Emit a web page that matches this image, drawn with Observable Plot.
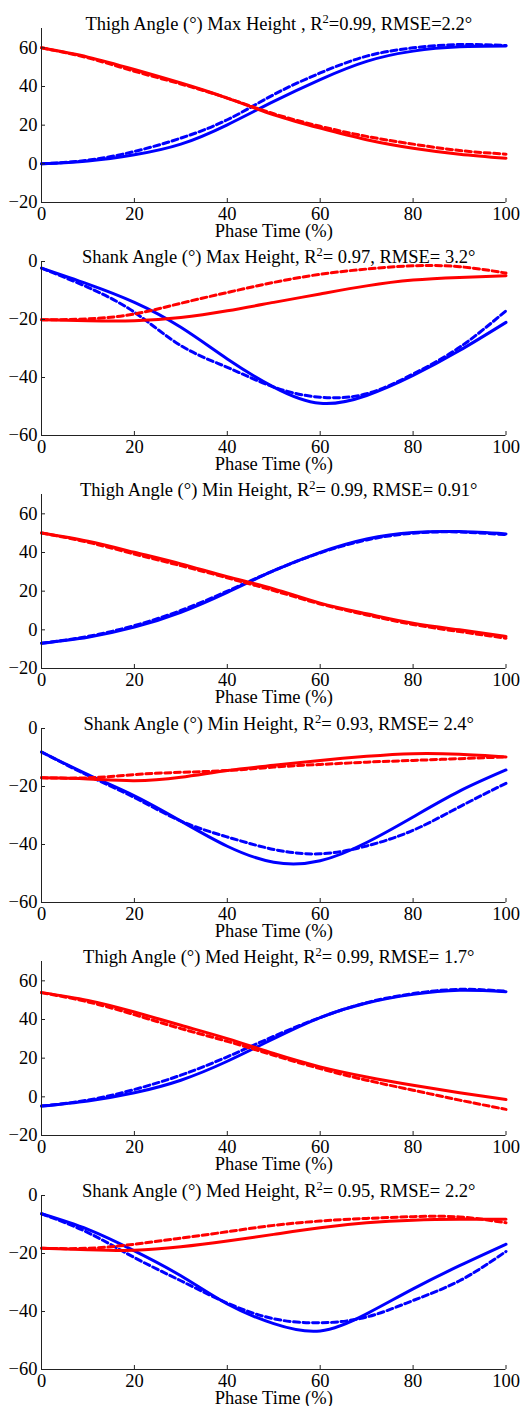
<!DOCTYPE html>
<html><head><meta charset="utf-8">
<script src="https://cdn.jsdelivr.net/npm/d3@7"></script>
<script src="https://cdn.jsdelivr.net/npm/@observablehq/plot@0.6"></script>
<style>
html,body{margin:0;padding:0;background:#fff;}
#wrap{position:relative;width:521px;height:1406px;overflow:hidden;background:#fff;}
#wrap svg{position:absolute;left:0;}
</style></head><body><div id="wrap"></div>
<script>
// ---- data ----
const phase = [0, 10, 20, 30, 40, 50, 60, 70, 80, 90, 100];
const xTicks = [0, 20, 40, 60, 80, 100];
const thighTicks = [-20, 0, 20, 40, 60];
const shankTicks = [-60, -40, -20, 0];
const thighDomain = [-20, 70];
const shankDomain = [-60, 0];
const xLabel = "Phase Time (%)";

const titles = [
  "Thigh Angle (°) Max Height , R²=0.99, RMSE=2.2°",
  "Shank Angle (°) Max Height, R²= 0.97, RMSE= 3.2°",
  "Thigh Angle (°) Min Height, R²= 0.99, RMSE= 0.91°",
  "Shank Angle (°) Min Height, R²= 0.93, RMSE= 2.4°",
  "Thigh Angle (°) Med Height, R²= 0.99, RMSE= 1.7°",
  "Shank Angle (°) Med Height, R²= 0.95, RMSE= 2.2°"
];

// Thigh, Max Height
const thighMaxBlueSolid  = [0, 1.5, 4.7, 10.2, 20.2, 32.3, 43.6, 53.0, 58.3, 60.5, 60.9];
const thighMaxBlueDashed = [0, 1.9, 6.4, 13.3, 22.8, 35.8, 47.0, 55.7, 60.0, 61.7, 61.2];
const thighMaxRedSolid   = [60, 55.2, 48.8, 41.8, 34.0, 25.4, 18.5, 12.5, 8.1, 5.0, 2.9];
const thighMaxRedDashed  = [60, 54.8, 47.9, 41.3, 34.0, 25.9, 19.4, 14.2, 10.2, 6.9, 5.0];
// Shank, Max Height
const shankMaxBlueSolid  = [-2.3, -7.8, -14.1, -22.7, -33.6, -43.3, -48.9, -46.2, -39.3, -30.7, -21.0];
const shankMaxBlueDashed = [-2.3, -8.9, -17.5, -29.0, -36.5, -43.3, -46.8, -45.6, -38.8, -29.6, -17.0];
const shankMaxRedSolid   = [-20.1, -20.4, -20.4, -19.3, -17.0, -14.1, -11.2, -8.4, -6.4, -5.5, -4.9];
const shankMaxRedDashed  = [-20.1, -19.8, -18.1, -14.4, -10.7, -7.2, -4.4, -2.6, -1.5, -1.8, -4.0];
// Thigh, Min Height
const thighMinBlueSolid  = [-6.9, -3.8, 1.4, 9.1, 19.4, 30.6, 40.1, 47.0, 50.4, 50.8, 49.6];
const thighMinBlueDashed = [-6.9, -3.4, 2.2, 10.0, 20.0, 30.6, 39.8, 46.5, 50.0, 50.6, 49.2];
const thighMinRedSolid   = [50.1, 45.8, 40.1, 34.1, 27.5, 21.2, 13.8, 8.3, 3.4, 0.0, -3.4];
const thighMinRedDashed  = [50.1, 45.3, 39.2, 33.2, 26.9, 20.3, 13.4, 7.7, 2.8, -0.9, -4.3];
// Shank, Min Height
const shankMinBlueSolid  = [-8.1, -15.9, -23.2, -31.9, -40.6, -46.1, -45.6, -39.3, -30.5, -21.6, -14.3];
const shankMinBlueDashed = [-8.1, -16.2, -23.8, -31.9, -37.4, -41.7, -43.2, -40.5, -35.1, -27.0, -18.9];
const shankMinRedSolid   = [-17.0, -17.4, -18.0, -16.8, -14.5, -12.7, -11.0, -9.6, -8.7, -8.9, -9.8];
const shankMinRedDashed  = [-17.0, -17.0, -15.9, -15.1, -14.5, -13.3, -12.4, -11.6, -11.0, -10.4, -9.8];
// Thigh, Med Height
const thighMedBlueSolid  = [-4.8, -2.1, 2.1, 8.6, 18.4, 30.1, 41.0, 48.5, 53.0, 55.1, 54.4];
const thighMedBlueDashed = [-4.8, -1.7, 3.8, 11.2, 20.7, 31.3, 41.0, 48.7, 53.4, 55.6, 54.6];
const thighMedRedSolid   = [53.9, 49.9, 43.9, 37.0, 30.1, 22.4, 15.5, 10.3, 6.0, 2.1, -1.4];
const thighMedRedDashed  = [53.9, 49.1, 42.5, 35.3, 28.7, 21.5, 14.6, 8.6, 3.4, -1.7, -6.5];
// Shank, Med Height
const shankMedBlueSolid  = [-6.3, -11.7, -19.1, -27.7, -37.4, -44.2, -46.7, -40.8, -32.2, -24.2, -16.8];
const shankMedBlueDashed = [-6.3, -12.8, -21.4, -29.4, -37.1, -42.5, -43.9, -41.9, -36.2, -29.4, -19.3];
const shankMedRedSolid   = [-18.2, -18.7, -18.9, -17.7, -15.7, -13.4, -11.1, -9.4, -8.5, -8.2, -8.2];
const shankMedRedDashed  = [-18.2, -18.2, -16.8, -14.7, -12.5, -10.3, -8.8, -7.9, -7.3, -7.4, -9.4];

// ---- assembly ----
const panels = [
  {title: titles[0], domain: thighDomain, ticks: thighTicks, s: [thighMaxBlueSolid, thighMaxBlueDashed, thighMaxRedSolid, thighMaxRedDashed]},
  {title: titles[1], domain: shankDomain, ticks: shankTicks, s: [shankMaxBlueSolid, shankMaxBlueDashed, shankMaxRedSolid, shankMaxRedDashed]},
  {title: titles[2], domain: thighDomain, ticks: thighTicks, s: [thighMinBlueSolid, thighMinBlueDashed, thighMinRedSolid, thighMinRedDashed]},
  {title: titles[3], domain: shankDomain, ticks: shankTicks, s: [shankMinBlueSolid, shankMinBlueDashed, shankMinRedSolid, shankMinRedDashed]},
  {title: titles[4], domain: thighDomain, ticks: thighTicks, s: [thighMedBlueSolid, thighMedBlueDashed, thighMedRedSolid, thighMedRedDashed]},
  {title: titles[5], domain: shankDomain, ticks: shankTicks, s: [shankMedBlueSolid, shankMedBlueDashed, shankMedRedSolid, shankMedRedDashed]}
];
const styles = [
  {stroke: "#0000ff", dash: null},
  {stroke: "#0000ff", dash: "6,3.5"},
  {stroke: "#ff0000", dash: null},
  {stroke: "#ff0000", dash: "6,3.5"}
];

const wrap = document.getElementById("wrap");
const MT = 30, PH = 174, MB = 42;
const FONT = "'Liberation Serif', 'Times New Roman', Times, serif";

panels.forEach((p, i) => {
  const top = 27.5 + 233.4 * i;
  const lineMarks = p.s.map((arr, k) => {
    const rows = phase.map((x, j) => ({x, y: arr[j]}));
    const opts = {x: "x", y: "y", stroke: styles[k].stroke, strokeWidth: 3, curve: "natural"};
    if (styles[k].dash) opts.strokeDasharray = styles[k].dash;
    return Plot.line(rows, opts);
  });
  const chart = Plot.plot({
    width: 521,
    height: MT + PH + MB,
    marginTop: MT,
    marginBottom: MB,
    marginLeft: 41,
    marginRight: 15.5,
    style: {background: "transparent", fontFamily: FONT, fontSize: "18.5px", color: "#000", overflow: "visible"},
    x: {domain: [0, 100], label: null},
    y: {domain: p.domain, label: null},
    marks: [
      ...lineMarks,
      Plot.ruleX([0], {stroke: "#222", strokeWidth: 1}),
      Plot.ruleY([p.domain[0]], {stroke: "#222", strokeWidth: 1}),
      Plot.axisX({ticks: xTicks, tickSize: -4, tickPadding: 8, tickFormat: d => String(d), label: null, stroke: "#222"}),
      Plot.axisY({ticks: p.ticks, tickSize: -4, tickPadding: 8, tickFormat: d => (d < 0 ? "\u2212" + Math.abs(d) : String(d)), label: null, stroke: "#222"}),
      Plot.text([xLabel], {frameAnchor: "bottom", lineAnchor: "bottom", dy: 34.5, text: d => d, fill: "#000"}),
      Plot.text([p.title], {frameAnchor: "top", lineAnchor: "bottom", dy: 1, dx: 5, text: d => d, fill: "#000"})
    ]
  });
  chart.style.top = (top - MT) + "px";
  // superscript for R²
  chart.querySelectorAll("text").forEach(t => {
    const s = t.textContent;
    const idx = s.indexOf("R²");
    if (idx >= 0) {
      const ns = "http://www.w3.org/2000/svg";
      while (t.firstChild) t.removeChild(t.firstChild);
      const a = document.createElementNS(ns, "tspan");
      a.textContent = s.slice(0, idx + 1);
      const b = document.createElementNS(ns, "tspan");
      b.textContent = "2";
      b.setAttribute("dy", "-7");
      b.setAttribute("font-size", "12.5px");
      const c = document.createElementNS(ns, "tspan");
      c.textContent = s.slice(idx + 2);
      c.setAttribute("dy", "7");
      c.setAttribute("font-size", "18.5px");
      t.appendChild(a); t.appendChild(b); t.appendChild(c);
    }
  });
  wrap.appendChild(chart);
});
</script>
</body></html>
